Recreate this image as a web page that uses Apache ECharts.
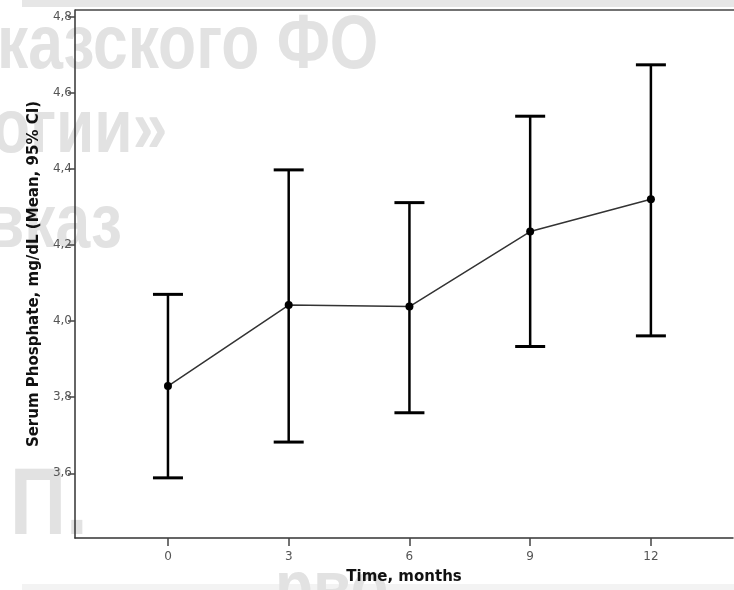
<!DOCTYPE html>
<html>
<head>
<meta charset="UTF-8">
<script src="https://cdn.jsdelivr.net/npm/echarts@6/dist/echarts.min.js"></script>
<style>
  html, body { margin: 0; padding: 0; background: #fff; }
  #chart { width: 734px; height: 590px; }
</style>
</head>
<body>
<div id="chart"></div>
<script>
// months and mean serum phosphate with 95% CI
var months = [0, 3, 6, 9, 12];
var means = [3.829, 4.042, 4.038, 4.235, 4.320];
var lower = [3.588, 3.682, 3.759, 3.933, 3.961];
var upper = [4.070, 4.397, 4.311, 4.538, 4.673];
var yTicks = [3.6, 3.8, 4.0, 4.2, 4.4, 4.6, 4.8];

var lineData = months.map(function (m, i) { return [m, means[i]]; });
var barData = months.map(function (m, i) { return [m, lower[i], upper[i]]; });

var wm = '#e2e2e2';
function mark(text, x, y, size) {
  return {
    type: 'text', z: -10, x: x, y: y, scaleX: 0.82,
    style: { text: text, fill: wm, font: 'bold ' + size + 'px "Liberation Sans", Arial', verticalAlign: 'middle' }
  };
}

var chart = echarts.init(document.getElementById('chart'));
chart.setOption({
  animation: false,
  graphic: [
    { type: 'rect', z: -20, shape: { x: 22, y: 0, width: 712, height: 7 }, style: { fill: '#e6e6e6' } },
    { type: 'rect', z: -20, shape: { x: 22, y: 584, width: 712, height: 6 }, style: { fill: '#f3f3f3' } },
    // top frame line of the plot (the right side is cut off in the picture)
    { type: 'line', z: 5, shape: { x1: 75, y1: 10, x2: 734, y2: 10 }, style: { stroke: '#444', lineWidth: 1.5 } },
    mark('казского ФО', -3, 47, 76),
    mark('огии»', -8, 131, 76),
    mark('вказ', -14, 226, 76),
    mark('П.', 10, 508, 95),
    mark('рво', 275, 592, 76)
  ],
  grid: { left: 75, top: 10, right: 1, height: 528 },
  xAxis: {
    type: 'value', min: -2.31, max: 14.04,
    name: 'Time, months', nameLocation: 'middle', nameGap: 32,
    nameTextStyle: { fontFamily: 'DejaVu Sans', fontWeight: 'bold', fontSize: 15, color: '#111' },
    axisLine: { show: true, onZero: false, lineStyle: { color: '#333', width: 1.5 } },
    axisTick: { show: true, length: 8, customValues: months, lineStyle: { color: '#444', width: 1.5 } },
    axisLabel: { customValues: months, margin: 13, fontFamily: 'DejaVu Sans', fontSize: 12, color: '#555' },
    splitLine: { show: false }
  },
  yAxis: {
    type: 'value', min: 3.43, max: 4.817,
    name: 'Serum Phosphate, mg/dL (Mean, 95% CI)', nameLocation: 'middle', nameGap: 32,
    nameTextStyle: { fontFamily: 'DejaVu Sans', fontWeight: 'bold', fontSize: 15, color: '#111' },
    axisLine: { show: true, onZero: false, lineStyle: { color: '#333', width: 1.5 } },
    axisTick: { show: true, length: 7, customValues: yTicks, lineStyle: { color: '#444', width: 1.5 } },
    axisLabel: {
      customValues: yTicks, margin: 3, fontFamily: 'DejaVu Sans', fontSize: 12, color: '#555',
      formatter: function (v) { return v.toFixed(1).replace('.', ','); }
    },
    splitLine: { show: false }
  },
  series: [
    {
      type: 'custom',
      data: barData,
      z: 3,
      renderItem: function (params, api) {
        var lo = api.coord([api.value(0), api.value(1)]);
        var hi = api.coord([api.value(0), api.value(2)]);
        var w = 15;
        var cap = { stroke: '#000', lineWidth: 3 };
        return {
          type: 'group',
          children: [
            { type: 'line', shape: { x1: lo[0], y1: lo[1], x2: hi[0], y2: hi[1] }, style: { stroke: '#000', lineWidth: 2.5 } },
            { type: 'line', shape: { x1: lo[0] - w, y1: lo[1], x2: lo[0] + w, y2: lo[1] }, style: cap },
            { type: 'line', shape: { x1: hi[0] - w, y1: hi[1], x2: hi[0] + w, y2: hi[1] }, style: cap }
          ]
        };
      }
    },
    {
      type: 'line',
      data: lineData,
      z: 4,
      symbol: 'circle', symbolSize: 8,
      lineStyle: { color: '#333', width: 1.5 },
      itemStyle: { color: '#000' }
    }
  ]
});
</script>
</body>
</html>
